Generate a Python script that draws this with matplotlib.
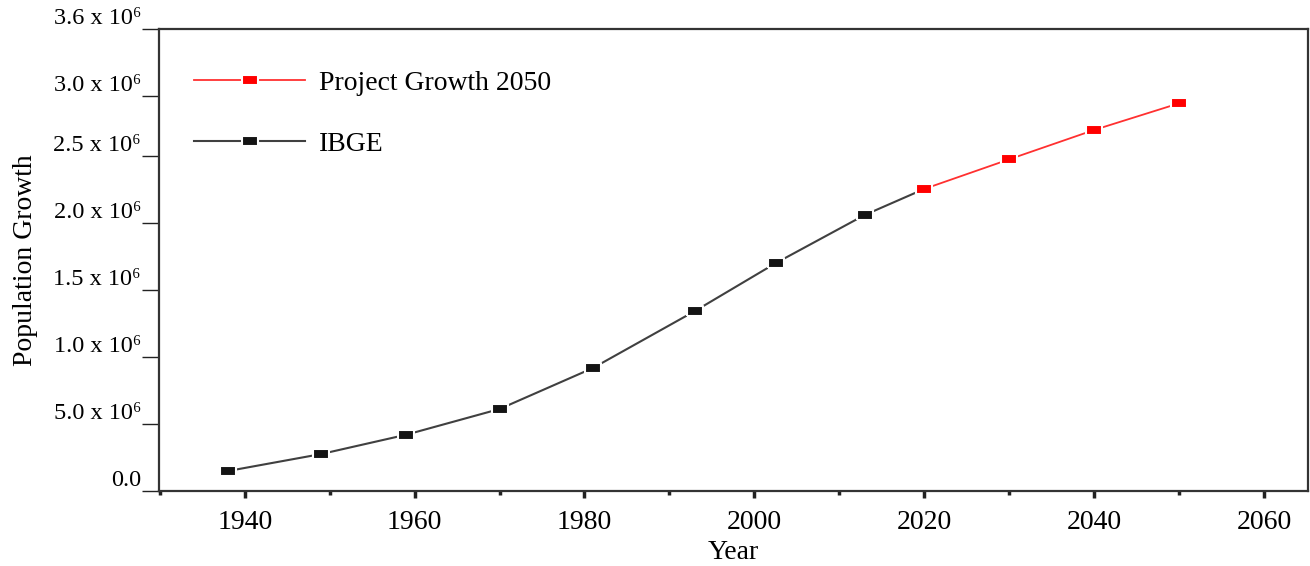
import numpy as np
import matplotlib
matplotlib.use("Agg")
import matplotlib.pyplot as plt
from matplotlib.ticker import MultipleLocator

plt.rcParams['font.family'] = ['Liberation Serif', 'DejaVu Serif']

# ── Data (population in millions) ──
ibge_years = [1938, 1949, 1959, 1970, 1981, 1993, 2002.5, 2013, 2020]
ibge_pop = [0.149, 0.276, 0.42, 0.612, 0.918, 1.343, 1.70, 2.06, 2.254]

proj_years = [2020, 2030, 2040, 2050]
proj_pop = [2.254, 2.475, 2.694, 2.893]

ytick_pos = [0.0, 0.5, 1.0, 1.5, 2.0, 2.5, 2.95, 3.448]
ytick_labels = ["0.0", "5.0 x 10⁶", "1.0 x 10⁶", "1.5 x 10⁶", "2.0 x 10⁶",
                "2.5 x 10⁶", "3.0 x 10⁶", "3.6 x 10⁶"]

# wide rectangular marker
rect = [(-1, -0.6), (1, -0.6), (1, 0.6), (-1, 0.6), (-1, -0.6)]

fig = plt.figure(figsize=(13.1, 5.66), dpi=100)
ax = fig.add_axes([0.1214, 0.1325, 0.8771, 0.8163])

ax.plot(ibge_years, ibge_pop, color="#404040", lw=1.5, marker=rect, ms=12,
        mfc="#141414", mec="white", mew=1.5, label="IBGE", zorder=2)
ax.plot(proj_years, proj_pop, color="#ff3030", lw=1.3, marker=rect, ms=12,
        mfc="#ff0000", mec="white", mew=1.5, label="Project Growth 2050", zorder=3)

ax.set_xlim(1929.9, 2065.2)
ax.set_ylim(0, 3.448)

ax.xaxis.set_major_locator(MultipleLocator(20))
ax.xaxis.set_minor_locator(MultipleLocator(10))
ax.tick_params(axis="x", which="major", direction="out", length=5, width=2.5,
               labelsize=20, pad=9, color="#222222")
ax.tick_params(axis="x", which="minor", direction="out", length=3, width=2.5,
               color="#222222")

ax.set_yticks(ytick_pos)
ax.set_yticklabels(ytick_labels)
ax.tick_params(axis="y", direction="out", length=12, width=1, labelsize=17.5,
               pad=1, color="#222222")
for lab in ax.get_yticklabels():
    lab.set_verticalalignment("bottom")

for sp in ax.spines.values():
    sp.set_linewidth(1.6)
    sp.set_color("#333333")

ax.set_xlabel("Year", fontsize=20, labelpad=3)
ax.set_ylabel("Population Growth", fontsize=20, labelpad=11)

handles, labels = ax.get_legend_handles_labels()
leg = ax.legend(handles[::-1], labels[::-1], loc="upper left", frameon=False,
                fontsize=20, handlelength=4.0, handletextpad=0.5,
                labelspacing=1.3, bbox_to_anchor=(0.009, 0.965))

fig.savefig("out.png", dpi=100)
